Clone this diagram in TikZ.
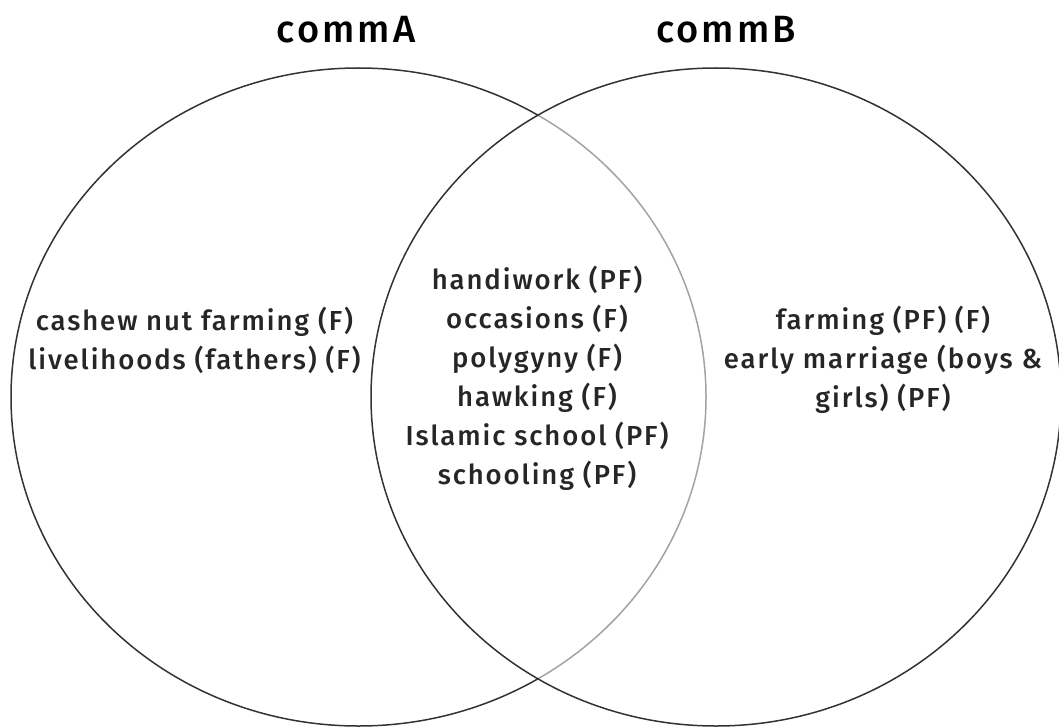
\documentclass[tikz,border=0pt]{standalone}
\usepackage{fontspec}
\setmainfont{Fira Sans}[UprightFont={* Medium},LetterSpace=7]
\begin{document}
\begin{tikzpicture}[x=1pt,y=-1pt,
  ring/.style={draw=black!80,line width=1.5pt},
  title/.style={font=\fontsize{38}{42}\selectfont\addfontfeatures{LetterSpace=8},text=black,inner sep=0pt},
  items/.style={font=\fontsize{27.5}{39}\selectfont,text=black!85,align=center,inner sep=0pt}]
\useasboundingbox (0,0) rectangle (1059,727);
\draw[ring] (358.5,397) ellipse [x radius=347.5, y radius=329];
\fill[white,fill opacity=0.55] (716,397) ellipse [x radius=345, y radius=329];
\draw[ring] (716,397) ellipse [x radius=345, y radius=329];
\node[title] (ta) at (346,30) {commA};
\node[title] (tb) at (726,30) {commB};
\node[items] (left) at (194.5,340.5) {cashew nut farming (F)\\livelihoods (fathers) (F)};
\node[items] (mid) at (537,378) {handiwork (PF)\\occasions (F)\\polygyny (F)\\hawking (F)\\Islamic school (PF)\\schooling (PF)};
\node[items] (right) at (883,360) {farming (PF) (F)\\early marriage (boys \&\\girls) (PF)};
\end{tikzpicture}
\end{document}
